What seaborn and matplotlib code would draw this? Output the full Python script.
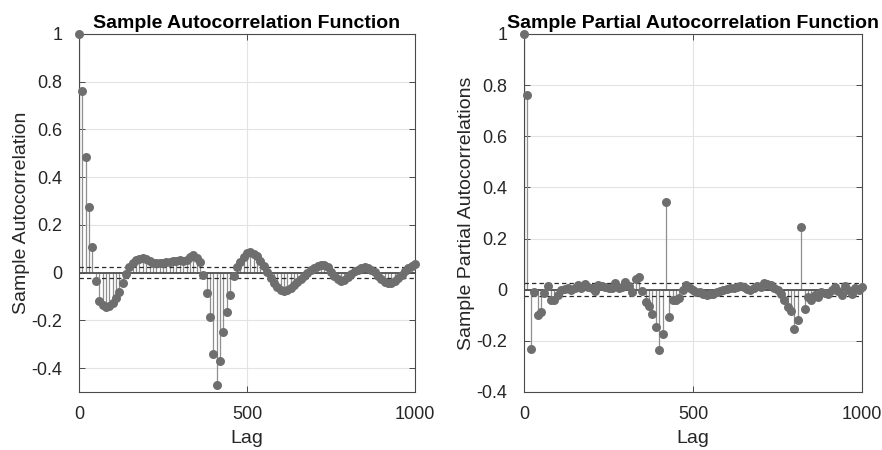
import numpy as np
import pandas as pd
import matplotlib
matplotlib.use("Agg")
import matplotlib.pyplot as plt
import seaborn as sns

lags = list(range(0, 1001, 10))

acf = [1.0, 0.762, 0.485, 0.277, 0.107, -0.035, -0.117, -0.136, -0.145, -0.14,
       -0.129, -0.108, -0.08, -0.045, -0.005, 0.022, 0.04, 0.052, 0.058, 0.06,
       0.057, 0.05, 0.042, 0.039, 0.04, 0.042, 0.044, 0.046, 0.048, 0.05,
       0.052, 0.05, 0.055, 0.066, 0.075, 0.06, 0.046, -0.01, -0.084, -0.187,
       -0.34, -0.47, -0.37, -0.25, -0.166, -0.094, -0.014, 0.025, 0.046, 0.067,
       0.081, 0.088, 0.08, 0.068, 0.05, 0.028, 0.004, -0.022, -0.045, -0.062,
       -0.072, -0.076, -0.072, -0.064, -0.052, -0.04, -0.027, -0.014, -0.002, 0.01,
       0.02, 0.028, 0.033, 0.032, 0.022, 0.004, -0.014, -0.028, -0.035, -0.03,
       -0.018, -0.006, 0.005, 0.013, 0.02, 0.023, 0.021, 0.013, 0.002, -0.012,
       -0.026, -0.038, -0.045, -0.044, -0.035, -0.024, -0.008, 0.006, 0.02, 0.03,
       0.036]

pacf = [1.0, 0.763, -0.232, -0.01, -0.1, -0.088, -0.012, 0.013, -0.04, -0.042,
        -0.02, 0.0, 0.004, 0.006, 0.0, 0.008, 0.017, 0.008, 0.024, 0.012,
        0.008, -0.005, 0.02, 0.015, 0.012, 0.008, 0.005, 0.026, 0.008, 0.01,
        0.03, 0.015, -0.008, 0.04, 0.051, -0.004, -0.049, -0.062, -0.094, -0.147,
        -0.236, -0.175, 0.342, -0.106, -0.042, -0.04, -0.032, 0.0, 0.017, 0.005,
        -0.003, -0.009, -0.009, -0.016, -0.022, -0.018, -0.016, -0.01, -0.005, 0.0,
        0.004, 0.008, 0.008, 0.012, 0.015, 0.01, 0.004, 0.0, 0.008, 0.013,
        0.012, 0.026, 0.022, 0.017, 0.008, -0.003, -0.015, -0.04, -0.066, -0.082,
        -0.153, -0.118, 0.246, -0.076, -0.029, -0.042, -0.022, -0.029, -0.009, -0.013,
        -0.018, -0.003, 0.01, -0.005, -0.022, 0.013, -0.003, -0.016, 0.008, 0.0,
        0.01]

bound_acf = 0.024
bound_pacf = 0.025

yticks = [-0.4, -0.2, 0, 0.2, 0.4, 0.6, 0.8, 1]
yticklabels = ["-0.4", "-0.2", "0", "0.2", "0.4", "0.6", "0.8", "1"]
xticks = [0, 500, 1000]
xticklabels = ["0", "500", "1000"]

sns.set_theme(style="whitegrid")
plt.rcParams["font.family"] = ["Liberation Sans", "DejaVu Sans"]

fig = plt.figure(figsize=(8.82, 4.5), dpi=100)
ax1 = fig.add_axes([79 / 882, 1 - 392 / 450, (415 - 79) / 882, (392 - 34) / 450])
ax2 = fig.add_axes([524 / 882, 1 - 392 / 450, (862 - 524) / 882, (392 - 34) / 450])

MARK = "#6e6e6e"
STEM = "#8f8f8f"
GRID = "#e3e3e3"
SPINE = "#4a4a4a"

def draw(ax, vals, bound, ylim, title, ylabel):
    df = pd.DataFrame({"Lag": lags, "val": vals})
    ax.vlines(df["Lag"], 0, df["val"], colors=STEM, linewidth=0.9, zorder=2)
    ax.axhline(0, color="#505050", linewidth=1.3, zorder=2)
    ax.axhline(bound, color="#2a2a2a", linewidth=0.9, linestyle=(0, (3.5, 2.5)), zorder=2)
    ax.axhline(-bound, color="#2a2a2a", linewidth=0.9, linestyle=(0, (3.5, 2.5)), zorder=2)
    sns.scatterplot(data=df, x="Lag", y="val", ax=ax, color=MARK, s=42,
                    linewidth=0, zorder=3, legend=False, clip_on=False)
    ax.set_xlim(0, 1000)
    ax.set_ylim(*ylim)
    ax.set_xticks(xticks)
    ax.set_xticklabels(xticklabels)
    ax.set_yticks(yticks)
    ax.set_yticklabels(yticklabels)
    ax.grid(True, color=GRID, linewidth=0.8)
    ax.set_axisbelow(True)
    for sp in ax.spines.values():
        sp.set_color(SPINE)
        sp.set_linewidth(0.8)
        sp.set_visible(True)
    ax.tick_params(axis="both", which="both", direction="in", length=4,
                   width=0.7, color=SPINE, labelsize=13, labelcolor="#262626",
                   top=True, right=True, bottom=True, left=True)
    ax.tick_params(axis="x", pad=10)
    ax.tick_params(axis="y", pad=12)
    ax.set_title(title, fontsize=14, fontweight="bold", color="black", pad=4)
    ax.set_xlabel("Lag", fontsize=14, color="#262626", labelpad=5)
    ax.set_ylabel(ylabel, fontsize=14, color="#262626", labelpad=1)

draw(ax1, acf, bound_acf, (-0.5, 1.0), "Sample Autocorrelation Function", "Sample Autocorrelation")
draw(ax2, pacf, bound_pacf, (-0.4, 1.0), "Sample Partial Autocorrelation Function", "Sample Partial Autocorrelations")

fig.savefig("out.png", dpi=100, facecolor="white")
